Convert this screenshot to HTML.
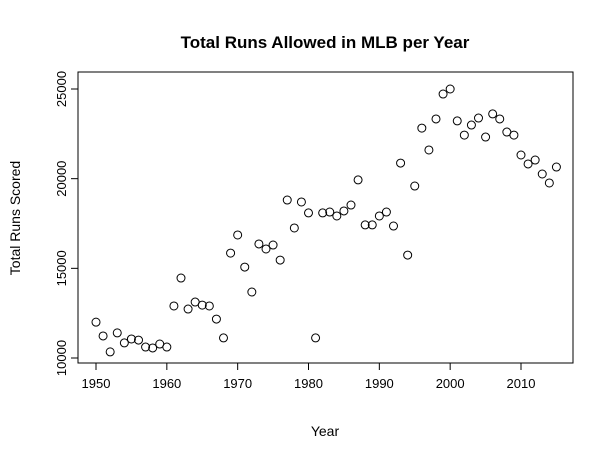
<!DOCTYPE html>
<html><head><meta charset="utf-8"><style>body{margin:0;background:#fff}svg{display:block;font-family:"Liberation Sans",sans-serif}</style></head>
<body>
<svg id="chart" width="614" height="461">
<rect width="614" height="461" fill="#fff"/>
<text x="325" y="48" text-anchor="middle" font-size="17" font-weight="bold">Total Runs Allowed in MLB per Year</text>
<text x="325" y="436" text-anchor="middle" font-size="14">Year</text>
<text transform="translate(20,218) rotate(-90)" text-anchor="middle" font-size="14">Total Runs Scored</text>
<rect x="78" y="72" width="495" height="291" fill="none" stroke="#000"/>
<g id="axes"></g><g id="points"></g>
</svg>
<script>
const years=[];for(let y=1950;y<=2015;y++)years.push(y);
const runs=[12000,11230,10340,11400,10840,11060,11000,10610,10560,10780,10610,12900,14460,12730,13120,12950,12900,12170,11120,15850,16860,15070,13680,16360,16080,16300,15460,18810,17250,18700,18090,11120,18090,18140,17920,18200,18530,19930,17420,17420,17920,18140,17360,20870,15740,19590,22820,21600,23330,24720,25000,23220,22430,22990,23380,22320,23610,23330,22600,22430,21320,20820,21040,20260,19760,20650];
const xTicks=[1950,1960,1970,1980,1990,2000,2010];
const yTicks=[10000,15000,20000,25000];
const NS="http://www.w3.org/2000/svg";
const xs=v=>96+(v-1950)*(425/60);
const ys=v=>358-(v-10000)*(269/15000);
const ax=document.getElementById('axes'),pts=document.getElementById('points');
function mk(t,a,p){const e=document.createElementNS(NS,t);for(const k in a)e.setAttribute(k,a[k]);p.appendChild(e);return e;}
mk('line',{x1:xs(1950),x2:xs(2010),y1:363,y2:363,stroke:'#000'},ax);
mk('line',{x1:78,x2:78,y1:ys(10000),y2:ys(25000),stroke:'#000'},ax);
xTicks.forEach(t=>{
 const l=mk('line',{x1:xs(t),x2:xs(t),y1:363,y2:370,stroke:'#000'},ax);
 
 
 const tx=mk('text',{x:xs(t),y:388,'text-anchor':'middle','font-size':13},ax);tx.textContent=t;
 
 
});
yTicks.forEach(t=>{
 const l=mk('line',{x1:71,x2:78,y1:ys(t),y2:ys(t),stroke:'#000'},ax);
 
 
 const tx=mk('text',{transform:`translate(66,${ys(t)}) rotate(-90)`,'text-anchor':'middle','font-size':13},ax);tx.textContent=t;
 
 
});
years.forEach((y,i)=>{
 const c=mk('circle',{cx:xs(y),cy:ys(runs[i]),r:4,fill:'none',stroke:'#000'},pts);
 
 
});
</script>
</body></html>
